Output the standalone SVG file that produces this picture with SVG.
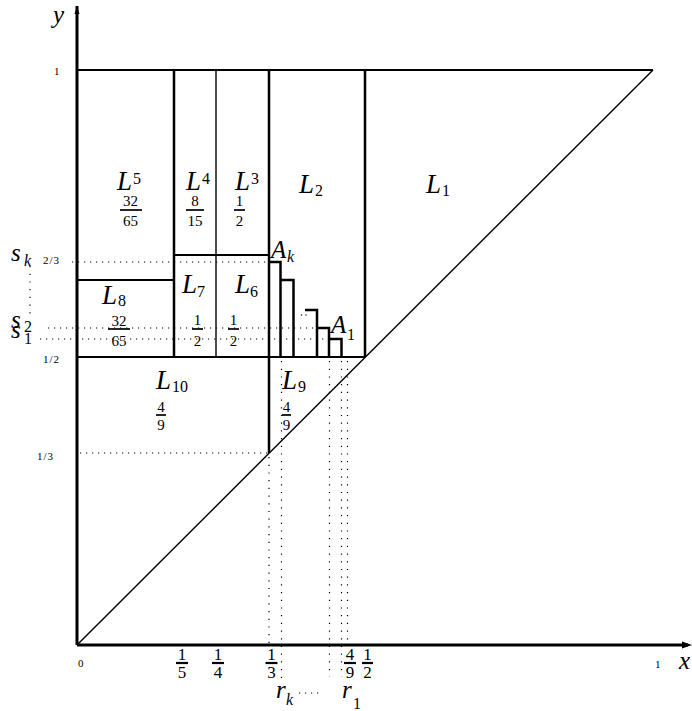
<svg xmlns="http://www.w3.org/2000/svg" width="692" height="711" viewBox="0 0 692 711">
<style>
.ax{stroke:#000;stroke-width:3;fill:none}
.th{stroke:#000;stroke-width:2.5;fill:none}
.md{stroke:#000;stroke-width:2;fill:none}
.tn{stroke:#000;stroke-width:1.4;fill:none}
.dh{stroke:#000;stroke-width:1.2;stroke-dasharray:1.2 4.8;fill:none}
.dv{stroke:#000;stroke-width:1.2;stroke-dasharray:1.2 6.5;fill:none}
.bar{stroke:#000;stroke-width:1.7}
.barb{stroke:#000;stroke-width:2.2}
text{font-family:"Liberation Serif","DejaVu Serif",serif;fill:#000}
.v{font-style:italic;font-size:27px}
.vs{font-size:16px}
.m{font-style:italic;font-size:25px}
.fr{font-size:15px;text-anchor:middle}
.fa{font-size:17px;text-anchor:middle}
.tk{font-size:11px}
</style>
<rect width="692" height="711" fill="#fff"/>

<g id="axes">
<line class="ax" x1="77" y1="645" x2="77" y2="6"/>
<polygon points="77,6 74.5,14 79.5,14" fill="#000"/>
<line class="ax" x1="77" y1="645" x2="688" y2="645"/>
<polygon points="692,645 682,641.5 682,648.5" fill="#000"/>
<text class="m" x="53" y="23">y</text>
<text class="m" x="679" y="669">x</text>
<text class="tk" x="54" y="75">1</text>
<text class="tk" x="43" y="264" letter-spacing="1">2/3</text>
<text class="tk" x="43" y="363" letter-spacing="1">1/2</text>
<text class="tk" x="37" y="460" letter-spacing="1">1/3</text>
<text class="tk" x="78" y="667">0</text>
<text class="tk" x="655" y="668">1</text>
</g>

<g id="connectors">
<line class="md" x1="77" y1="70" x2="653" y2="70"/>
<line class="tn" x1="77" y1="645" x2="653" y2="70"/>
<line class="th" x1="365" y1="70" x2="365" y2="357"/>
<line class="th" x1="269" y1="70" x2="269" y2="453"/>
<line class="tn" x1="216" y1="70" x2="216" y2="357"/>
<line class="th" x1="174" y1="70" x2="174" y2="357"/>
<line class="md" x1="77" y1="357" x2="365" y2="357"/>
<line class="md" x1="174" y1="255" x2="269" y2="255"/>
<line class="md" x1="77" y1="280" x2="174" y2="280"/>
<polyline class="th" points="269,262 280.5,262 280.5,357"/>
<polyline class="th" points="280.5,280 293.5,280 293.5,357"/>
<polyline class="th" points="305,310 317,310 317,357"/>
<polyline class="th" points="317,328 329,328 329,357"/>
<polyline class="th" points="329,339 341.5,339 341.5,357"/>
<line class="dh" x1="72" y1="262" x2="269" y2="262"/>
<line class="dh" x1="48" y1="328" x2="317" y2="328"/>
<line class="dh" x1="40" y1="339" x2="329" y2="339"/>
<line class="dh" x1="80" y1="453" x2="269" y2="453"/>
<line class="dv" x1="30" y1="266" x2="30" y2="316"/>
<line class="dv" x1="269" y1="457" x2="269" y2="645"/>
<line class="dv" x1="281.5" y1="361" x2="281.5" y2="682"/>
<line class="dv" x1="329.5" y1="361" x2="329.5" y2="677"/>
<line class="dv" x1="341.5" y1="361" x2="341.5" y2="677"/>
<line class="dv" x1="347.5" y1="361" x2="347.5" y2="645"/>
<line class="dh" x1="299" y1="693" x2="320" y2="693"/>
<circle cx="301.5" cy="315" r="0.7"/>
<circle cx="306" cy="315" r="0.7"/>
</g>

<g id="L1"><text class="v" x="426" y="193">L</text><text class="vs" x="442" y="196">1</text></g>
<g id="L2"><text class="v" x="299" y="193">L</text><text class="vs" x="315" y="196">2</text></g>
<g id="L3"><text class="v" x="235" y="190">L</text><text class="vs" x="251" y="184">3</text>
<text class="fr" x="239.5" y="206">1</text><line class="bar" x1="234" y1="210" x2="245" y2="210"/><text class="fr" x="239.5" y="226">2</text></g>
<g id="L4"><text class="v" x="186" y="190">L</text><text class="vs" x="202" y="184">4</text>
<text class="fr" x="195" y="206">8</text><line class="bar" x1="186" y1="210" x2="204" y2="210"/><text class="fr" x="195" y="226">15</text></g>
<g id="L5"><text class="v" x="117" y="190">L</text><text class="vs" x="133" y="184">5</text>
<text class="fr" x="130.5" y="206">32</text><line class="bar" x1="120" y1="210" x2="142" y2="210"/><text class="fr" x="130.5" y="226">65</text></g>
<g id="L6"><text class="v" x="235" y="293">L</text><text class="vs" x="250" y="297">6</text>
<text class="fr" x="233.5" y="325">1</text><line class="bar" x1="228" y1="329" x2="239" y2="329"/><text class="fr" x="233.5" y="346">2</text></g>
<g id="L7"><text class="v" x="182" y="293">L</text><text class="vs" x="197" y="297">7</text>
<text class="fr" x="197.5" y="325">1</text><line class="bar" x1="192" y1="329" x2="203" y2="329"/><text class="fr" x="197.5" y="346">2</text></g>
<g id="L8"><text class="v" x="102" y="304">L</text><text class="vs" x="118" y="306">8</text>
<text class="fr" x="119" y="326">32</text><line class="bar" x1="108" y1="329" x2="130" y2="329"/><text class="fr" x="119" y="346">65</text></g>
<g id="L9"><text class="v" x="282" y="389">L</text><text class="vs" x="298" y="392">9</text>
<text class="fr" x="286.5" y="412">4</text><line class="bar" x1="282" y1="415" x2="291" y2="415"/><text class="fr" x="286.5" y="430">9</text></g>
<g id="L10"><text class="v" x="156" y="389">L</text><text class="vs" x="172" y="392">10</text>
<text class="fr" x="161" y="412">4</text><line class="bar" x1="156" y1="415" x2="166" y2="415"/><text class="fr" x="161" y="430">9</text></g>

<g id="Ak"><text class="m" x="271" y="258">A</text><text class="vs" font-style="italic" x="287" y="262">k</text></g>
<g id="A1"><text class="m" x="331" y="333">A</text><text class="vs" x="347" y="340">1</text></g>
<g id="sk"><text class="m" x="11" y="261">s</text><text class="vs" font-style="italic" x="24" y="266">k</text></g>
<g id="s2"><text class="m" x="11" y="328">s</text><text class="vs" x="24" y="332">2</text></g>
<g id="s1"><text class="m" x="11" y="338">s</text><text class="vs" x="24" y="344">1</text></g>
<g id="rk"><text class="m" x="276" y="698">r</text><text class="vs" font-style="italic" x="286" y="705">k</text></g>
<g id="r1"><text class="m" x="342" y="698">r</text><text class="vs" x="353" y="709">1</text></g>

<g id="xticks">
<text class="fa" x="182" y="660">1</text><line class="barb" x1="176" y1="663" x2="188" y2="663"/><text class="fa" x="182" y="678">5</text>
<text class="fa" x="218" y="660">1</text><line class="barb" x1="212" y1="663" x2="224" y2="663"/><text class="fa" x="218" y="678">4</text>
<text class="fa" x="271.5" y="660">1</text><line class="barb" x1="265.5" y1="663" x2="277.5" y2="663"/><text class="fa" x="271.5" y="678">3</text>
<text class="fa" x="350" y="660">4</text><line class="barb" x1="344" y1="663" x2="356" y2="663"/><text class="fa" x="350" y="678">9</text>
<text class="fa" x="367.5" y="660">1</text><line class="barb" x1="362" y1="663" x2="373" y2="663"/><text class="fa" x="367.5" y="678">2</text>
</g>
</svg>
